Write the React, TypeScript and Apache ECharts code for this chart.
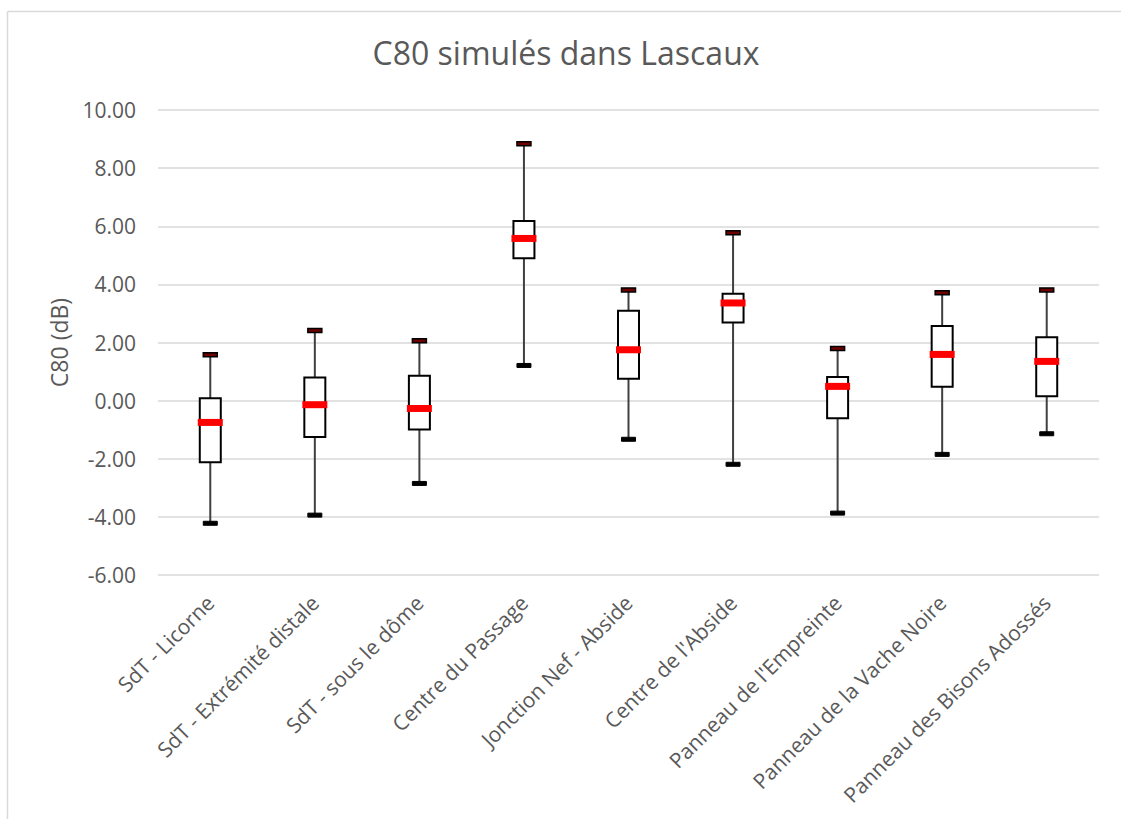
import React, { useEffect, useRef } from "react";
import * as echarts from "echarts";

const categories = [
  "SdT - Licorne",
  "SdT - Extrémité distale",
  "SdT - sous le dôme",
  "Centre du Passage",
  "Jonction Nef - Abside",
  "Centre de l'Abside",
  "Panneau de l'Empreinte",
  "Panneau de la Vache Noire",
  "Panneau des Bisons Adossés",
];
const minValues = [-4.22, -3.94, -2.85, 1.21, -1.33, -2.19, -3.87, -1.85, -1.14];
const q1Values = [-2.12, -1.25, -0.99, 4.9, 0.75, 2.69, -0.61, 0.48, 0.15];
const medianValues = [-0.75, -0.14, -0.27, 5.58, 1.75, 3.36, 0.49, 1.59, 1.35];
const q3Values = [0.08, 0.8, 0.86, 6.18, 3.09, 3.68, 0.81, 2.57, 2.18];
const maxValues = [1.58, 2.41, 2.06, 8.84, 3.81, 5.78, 1.79, 3.71, 3.81];

const yMin = -6;
const yMax = 10;
const yInterval = 2;

const FONT = "'Open Sans', sans-serif";
const TEXT = "#595959";

export default function App() {
  const ref = useRef<HTMLDivElement>(null);
  useEffect(() => {
    if (!ref.current) return;
    const chart = echarts.init(ref.current, null, { renderer: "svg" });
    const data = categories.map((_, i) => [
      i,
      minValues[i],
      q1Values[i],
      medianValues[i],
      q3Values[i],
      maxValues[i],
    ]);
    chart.setOption({
      animation: false,
      backgroundColor: "#ffffff",
      textStyle: { fontFamily: FONT },
      title: {
        text: "C80 simulés dans Lascaux",
        left: 561,
        textAlign: "center",
        top: 31,
        textStyle: { fontFamily: FONT, fontSize: 32, fontWeight: "normal", color: TEXT },
      },
      graphic: [
        {
          type: "line",
          z: -10,
          silent: true,
          shape: { x1: 7.5, y1: 11.5, x2: 1121, y2: 11.5 },
          style: { stroke: "#d9d9d9", lineWidth: 1.5 },
        },
        {
          type: "line",
          z: -10,
          silent: true,
          shape: { x1: 7.5, y1: 11.5, x2: 7.5, y2: 819 },
          style: { stroke: "#d9d9d9", lineWidth: 1.5 },
        },
      ],
      grid: { left: 158, right: 22, top: 110, bottom: 244 },
      xAxis: {
        type: "category",
        data: categories,
        boundaryGap: true,
        axisLine: { show: false },
        axisTick: { show: false },
        axisLabel: {
          rotate: 45,
          interval: 0,
          margin: 24,
          fontFamily: FONT,
          fontSize: 21,
          color: TEXT,
        },
        splitLine: { show: false },
      },
      yAxis: {
        type: "value",
        min: yMin,
        max: yMax,
        interval: yInterval,
        name: "C80 (dB)",
        nameLocation: "middle",
        nameGap: 88,
        nameRotate: 90,
        nameTextStyle: { fontFamily: FONT, fontSize: 23, color: TEXT },
        axisLine: { show: false },
        axisTick: { show: false },
        axisLabel: {
          margin: 22,
          fontFamily: FONT,
          fontSize: 21,
          color: TEXT,
          formatter: (v: number) => v.toFixed(2),
        },
        splitLine: { lineStyle: { color: "#d9d9d9", width: 1.5 } },
      },
      series: [
        {
          type: "custom",
          data,
          encode: { x: 0, y: [1, 2, 3, 4, 5] },
          renderItem: (_params: any, api: any) => {
            const i = api.value(0);
            const pMin = api.coord([i, api.value(1)]);
            const pQ1 = api.coord([i, api.value(2)]);
            const pMed = api.coord([i, api.value(3)]);
            const pQ3 = api.coord([i, api.value(4)]);
            const pMax = api.coord([i, api.value(5)]);
            const cx = pMin[0];
            const boxW = 21;
            const capW = 14;
            const capH = 4;
            const medW = 25;
            const medH = 7;
            return {
              type: "group",
              children: [
                {
                  type: "line",
                  shape: { x1: cx, y1: pMax[1], x2: cx, y2: pMin[1] },
                  style: { stroke: "#404040", lineWidth: 2 },
                },
                {
                  type: "rect",
                  shape: { x: cx - boxW / 2, y: pQ3[1], width: boxW, height: pQ1[1] - pQ3[1] },
                  style: { fill: "#ffffff", stroke: "#000000", lineWidth: 2 },
                },
                {
                  type: "rect",
                  shape: { x: cx - medW / 2, y: pMed[1] - medH / 2, width: medW, height: medH },
                  style: { fill: "#ff0000" },
                },
                {
                  type: "rect",
                  shape: { x: cx - capW / 2, y: pMax[1] - capH / 2, width: capW, height: capH },
                  style: { fill: "#6e0000", stroke: "#000000", lineWidth: 1.5 },
                },
                {
                  type: "rect",
                  shape: { x: cx - capW / 2, y: pMin[1] - capH / 2, width: capW, height: capH },
                  style: { fill: "#000000", stroke: "#000000", lineWidth: 1 },
                },
              ],
            };
          },
        },
      ],
    });
    return () => chart.dispose();
  }, []);
  return (
    <div
      ref={ref}
      style={{ position: "absolute", left: 0, top: 0, width: 1121, height: 819 }}
    />
  );
}
